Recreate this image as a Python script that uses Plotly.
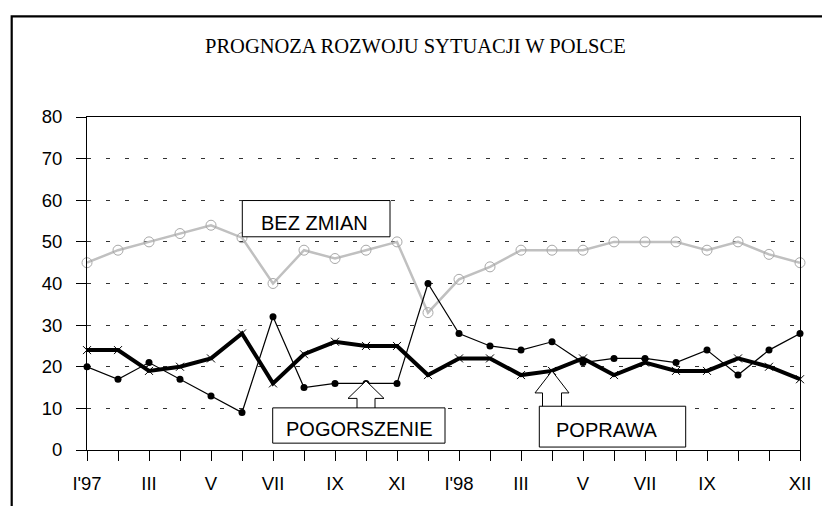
import plotly.graph_objects as go

# ---------------- data ----------------
months = list(range(24))
tick_positions = [0, 2, 4, 6, 8, 10, 12, 14, 16, 18, 20, 23]
tick_labels = ["I'97", "III", "V", "VII", "IX", "XI", "I'98", "III", "V", "VII", "IX", "XII"]

bez_zmian = [45, 48, 50, 52, 54, 51, 40, 48, 46, 48, 50, 33,
             41, 44, 48, 48, 48, 50, 50, 50, 48, 50, 47, 45]
pogorszenie = [20, 17, 21, 17, 13, 9, 32, 15, 16, 16, 16, 40,
               28, 25, 24, 26, 21, 22, 22, 21, 24, 18, 24, 28]
poprawa = [24, 24, 19, 20, 22, 28, 16, 23, 26, 25, 25, 18,
           22, 22, 18, 19, 22, 18, 21, 19, 19, 22, 20, 17]

title_text = "PROGNOZA ROZWOJU SYTUACJI W POLSCE"

# ---------------- layout geometry ----------------
# the page body has an 8px margin, so the figure is drawn 8px in from the window edge
OFF = 8
FW, FH = 830 - OFF, 506 - OFF
L, T, W, H = 87 - OFF, 117 - OFF, 713, 340
R, B = FW - L - W, FH - T - H


def px(x):
    """window pixel x -> paper fraction"""
    return (x - OFF - L) / W


def py(y):
    """window pixel y -> paper fraction"""
    return (T + H - (y - OFF)) / H


SANS = "Liberation Sans, Arial, sans-serif"
SERIF = "Liberation Serif, Times New Roman, serif"

fig = go.Figure()

fig.add_trace(go.Scatter(
    x=months, y=bez_zmian, mode="lines+markers", name="BEZ ZMIAN",
    line=dict(color="#c0c0c0", width=2.5),
    marker=dict(symbol="circle-open", size=10, color="#a8a8a8", line=dict(width=1, color="#a8a8a8")),
    cliponaxis=False,
))
fig.add_trace(go.Scatter(
    x=months, y=poprawa, mode="lines+markers", name="POPRAWA",
    line=dict(color="black", width=4),
    marker=dict(symbol="x-thin-open", size=8, color="black", line=dict(width=1, color="black")),
    cliponaxis=False,
))
fig.add_trace(go.Scatter(
    x=months, y=pogorszenie, mode="lines+markers", name="POGORSZENIE",
    line=dict(color="black", width=1.2),
    marker=dict(symbol="circle", size=7, color="black"),
    cliponaxis=False,
))

shapes = []
# outer frame (right and bottom edges lie outside the picture)
shapes.append(dict(type="rect", xref="paper", yref="paper",
                   x0=px(11.7), x1=px(860), y0=py(540), y1=py(14.3),
                   line=dict(color="black", width=2.2), fillcolor="rgba(0,0,0,0)", layer="above"))


# block arrows (anchored at the data points they point to)
def arrow(xa, ya, tip, base, bottom, hw, sw):
    path = (f"M 0,{tip} L {hw},{base} L {sw},{base} L {sw},{bottom} "
            f"L {-sw},{bottom} L {-sw},{base} L {-hw},{base} Z")
    return dict(type="path", xref="x", yref="y", xsizemode="pixel", ysizemode="pixel",
                xanchor=xa, yanchor=ya, path=path,
                line=dict(color="black", width=1), fillcolor="white", layer="above")


shapes.append(arrow(9, pogorszenie[9], 2.5, -15, -26, 18, 9))
shapes.append(arrow(15, poprawa[15], 0, -22, -37, 17, 9.5))


# label boxes
def box(x0, x1, y0, y1):
    return dict(type="rect", xref="paper", yref="paper",
                x0=px(x0), x1=px(x1), y0=py(y1), y1=py(y0),
                line=dict(color="black", width=1), fillcolor="white", layer="above")


shapes.append(box(242.3, 390, 202.3, 239.3))
shapes.append(box(272.7, 445, 414, 450))
shapes.append(box(539.3, 685.7, 412.3, 454))

annotations = [
    dict(text=title_text, xref="paper", yref="paper", x=px(415.5), y=py(44),
         xanchor="center", yanchor="middle", showarrow=False,
         font=dict(family=SERIF, size=20.5, color="black")),
    dict(text="BEZ ZMIAN", xref="paper", yref="paper", x=px(259.3), y=py(225),
         xanchor="left", yanchor="middle", showarrow=False,
         font=dict(family=SANS, size=20, color="black")),
    dict(text="POGORSZENIE", xref="paper", yref="paper", x=px(284), y=py(435.5),
         xanchor="left", yanchor="middle", showarrow=False,
         font=dict(family=SANS, size=20, color="black")),
    dict(text="POPRAWA", xref="paper", yref="paper", x=px(554.3), y=py(437),
         xanchor="left", yanchor="middle", showarrow=False,
         font=dict(family=SANS, size=20, color="black")),
]

fig.update_layout(
    width=FW, height=FH,
    margin=dict(l=L, r=R, t=T, b=B, pad=0),
    paper_bgcolor="white", plot_bgcolor="white",
    showlegend=False,
    shapes=shapes,
    annotations=annotations,
)

fig.update_xaxes(
    range=[0, 23], tickmode="array", tickvals=months,
    ticktext=[tick_labels[tick_positions.index(m)] if m in tick_positions else "" for m in months],
    showgrid=False, zeroline=False,
    showline=True, linecolor="black", linewidth=1, mirror=True,
    ticks="outside", ticklen=10, tickwidth=1, tickcolor="black",
    tickfont=dict(family=SANS, size=18.5, color="black"),
    ticklabelstandoff=7,
)
fig.update_yaxes(
    range=[0, 80], tickmode="array", tickvals=list(range(0, 81, 10)),
    showgrid=True, gridcolor="#333333", gridwidth=1, griddash="4px,15px",
    zeroline=False,
    showline=True, linecolor="black", linewidth=1, mirror=True,
    ticks="outside", ticklen=10, tickwidth=1, tickcolor="black",
    tickfont=dict(family=SANS, size=18.5, color="black"),
    ticklabelstandoff=10,
)

fig.write_html("out.html")
